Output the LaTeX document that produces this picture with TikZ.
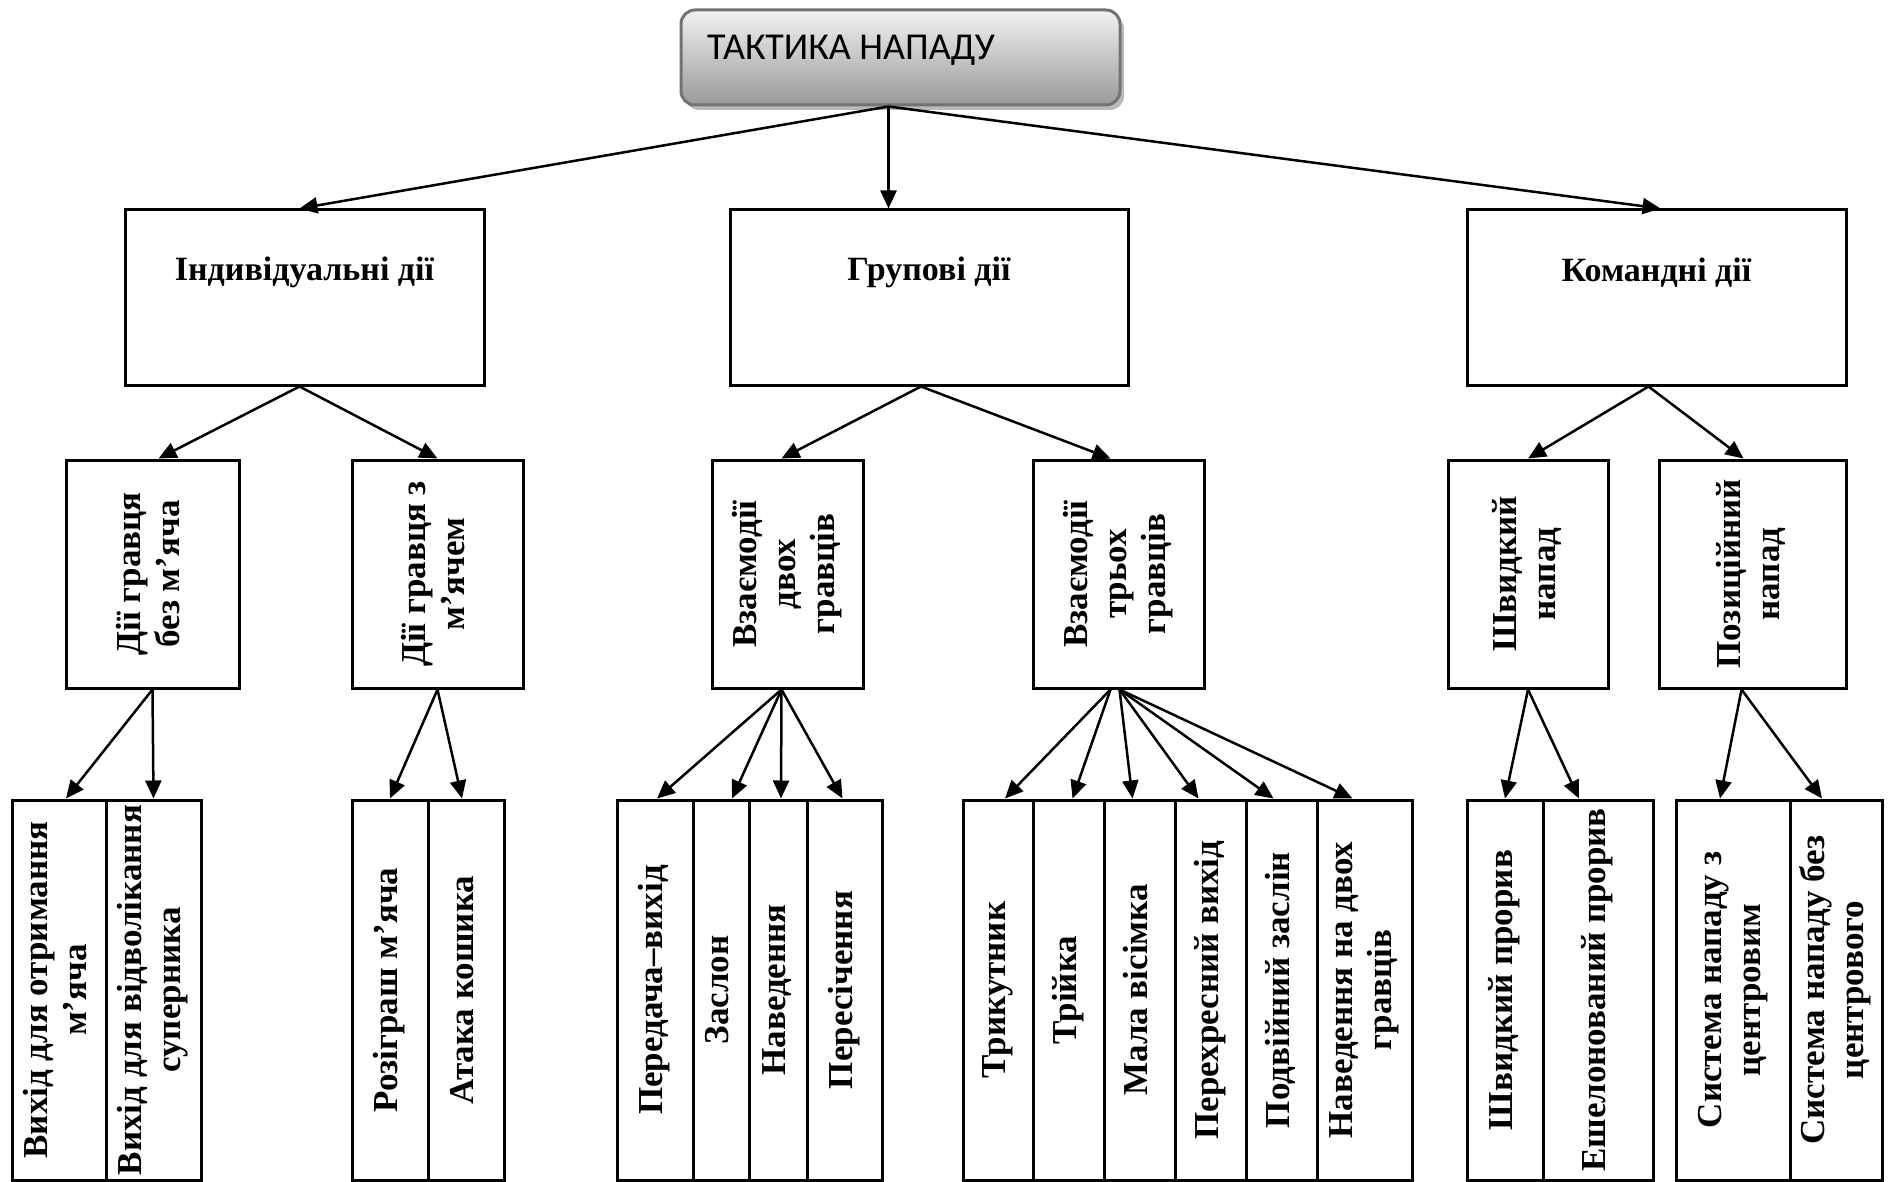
\documentclass[tikz,border=0pt]{standalone}
\usepackage{fontspec}
\setmainfont{Liberation Serif}
\newfontfamily\titlefont{Carlito}
\usepackage{tikz}
\usetikzlibrary{arrows.meta,shadows}

\newcommand{\vtext}[1]{\rotatebox{90}{\begin{tabular}{@{}c@{}}#1\end{tabular}}}

\begin{document}
\begin{tikzpicture}[x=1pt,y=-1pt,
  txt/.style={font=\fontsize{35}{39}\selectfont\bfseries},
  headtxt/.style={font=\fontsize{34}{39}\selectfont\bfseries},
  box/.style={draw,line width=3pt,inner sep=0pt,txt},
  arr/.style={-{Triangle[length=18pt,width=16pt]},line width=2.5pt}]
  \useasboundingbox (0,0) rectangle (1889,1182);
  \node[draw=black!55,line width=3pt,rounded corners=14pt,top color=black!5,bottom color=black!40,
    drop shadow={shadow xshift=4pt,shadow yshift=-5pt,fill=black!45,opacity=0.6},
    minimum width=439pt,minimum height=95pt,
    label={[anchor=west,xshift=24pt,yshift=7pt,font=\titlefont\fontsize{38}{44}\selectfont]west:ТАКТИКА НАПАДУ}] (T) at (900.5,57.5) {};
  \coordinate (Tout) at ([xshift=-12pt]T.south);

  \node[box,minimum width=359pt,minimum height=175pt,label={[headtxt,yshift=25pt]center:Індивідуальні дії}] (I) at (304.5,297.5) {};
  \node[box,minimum width=398pt,minimum height=175pt,label={[headtxt,yshift=25pt]center:Групові дії}] (G) at (929,297.5) {};
  \node[box,minimum width=379pt,minimum height=175pt,label={[headtxt,yshift=25pt]center:Командні дії}] (K) at (1656.5,297.5) {};

  \node[box,minimum width=173pt,minimum height=228pt] (I1) at (152.5,574) {\vtext{Дії гравця\\без м’яча}};
  \node[box,minimum width=171pt,minimum height=228pt] (I2) at (437.5,574) {\vtext{Дії гравця з\\м’ячем}};
  \node[box,minimum width=151pt,minimum height=228pt] (G1) at (787.5,574) {\vtext{Взаємодії\\двох\\гравців}};
  \node[box,minimum width=171pt,minimum height=228pt] (G2) at (1118.5,574) {\vtext{Взаємодії\\трьох\\гравців}};
  \node[box,minimum width=160pt,minimum height=228pt] (K1) at (1528,574) {\vtext{Швидкий\\напад}};
  \node[box,minimum width=187pt,minimum height=228pt] (K2) at (1752.5,574) {\vtext{Позиційний\\напад}};

  \node[box,minimum width=94pt,minimum height=380pt] (I11) at (59,990) {\vtext{Вихід для отримання\\м’яча}};
  \node[box,minimum width=95pt,minimum height=380pt] (I12) at (153.5,990) {\vtext{Вихід для відволікання\\суперника}};
  \node[box,minimum width=76pt,minimum height=380pt] (I21) at (390,990) {\vtext{Розіграш м’яча}};
  \node[box,minimum width=76pt,minimum height=380pt] (I22) at (466,990) {\vtext{Атака кошика}};
  \node[box,minimum width=76pt,minimum height=380pt] (G11) at (655,990) {\vtext{Передача–вихід}};
  \node[box,minimum width=56pt,minimum height=380pt] (G12) at (721,990) {\vtext{Заслон}};
  \node[box,minimum width=58pt,minimum height=380pt] (G13) at (778,990) {\vtext{Наведення}};
  \node[box,minimum width=75pt,minimum height=380pt] (G14) at (844.5,990) {\vtext{Пересічення}};
  \node[box,minimum width=70pt,minimum height=380pt] (G21) at (998,990) {\vtext{Трикутник}};
  \node[box,minimum width=71pt,minimum height=380pt] (G22) at (1068.5,990) {\vtext{Трійка}};
  \node[box,minimum width=71pt,minimum height=380pt] (G23) at (1139.5,990) {\vtext{Мала вісімка}};
  \node[box,minimum width=71pt,minimum height=380pt] (G24) at (1210.5,990) {\vtext{Перехресний вихід}};
  \node[box,minimum width=71pt,minimum height=380pt] (G25) at (1281.5,990) {\vtext{Подвійний заслін}};
  \node[box,minimum width=95pt,minimum height=380pt] (G26) at (1364.5,990) {\vtext{Наведення на двох\\гравців}};
  \node[box,minimum width=76pt,minimum height=380pt] (K11) at (1505,990) {\vtext{Швидкий прорив}};
  \node[box,minimum width=110pt,minimum height=380pt] (K12) at (1598,990) {\vtext{Ешелонований прорив}};
  \node[box,minimum width=114pt,minimum height=380pt] (K21) at (1733,990) {\vtext{Система нападу з\\центровим}};
  \node[box,minimum width=92pt,minimum height=380pt] (K22) at (1836,990) {\vtext{Система нападу без\\центрового}};

  \draw[arr] (Tout) -- ([xshift=-5pt]I.north);
  \draw[arr] (Tout) -- (Tout |- G.north);
  \draw[arr] (Tout) -- ([xshift=4pt]K.north);

  \draw[arr] ([xshift=-5pt]I.south) -- ([xshift=6pt]I1.north);
  \draw[arr] ([xshift=-5pt]I.south) -- (I2.north);
  \draw[arr] ([xshift=-8pt]G.south) -- ([xshift=-6pt]G1.north);
  \draw[arr] ([xshift=-8pt]G.south) -- ([xshift=-8pt]G2.north);
  \draw[arr] ([xshift=-8pt]K.south) -- (K1.north);
  \draw[arr] ([xshift=-8pt]K.south) -- ([xshift=-9pt]K2.north);

  \draw[arr] (I1.south) -- ([xshift=7pt]I11.north);
  \draw[arr] (I1.south) -- (I12.north);
  \draw[arr] (I2.south) -- (I21.north);
  \draw[arr] (I2.south) -- ([xshift=-4pt]I22.north);
  \draw[arr] ([xshift=-6pt]G1.south) -- ([xshift=2pt]G11.north);
  \draw[arr] ([xshift=-6pt]G1.south) -- ([xshift=11pt]G12.north);
  \draw[arr] ([xshift=-6pt]G1.south) -- ([xshift=3pt]G13.north);
  \draw[arr] ([xshift=-6pt]G1.south) -- ([xshift=-2pt]G14.north);
  \draw[arr] ([xshift=-8pt]G2.south) -- ([xshift=7pt]G21.north);
  \draw[arr] ([xshift=-8pt]G2.south) -- ([xshift=4pt]G22.north);
  \draw[arr] ([xshift=1pt]G2.south) -- ([xshift=-7pt]G23.north);
  \draw[arr] ([xshift=1pt]G2.south) -- ([xshift=-12pt]G24.north);
  \draw[arr] ([xshift=1pt]G2.south) -- ([xshift=-8pt]G25.north);
  \draw[arr] ([xshift=1pt]G2.south) -- ([xshift=-12pt]G26.north);
  \draw[arr] (K1.south) -- (K11.north);
  \draw[arr] (K1.south) -- ([xshift=-19pt]K12.north);
  \draw[arr] ([xshift=-11pt]K2.south) -- ([xshift=-13pt]K21.north);
  \draw[arr] ([xshift=-11pt]K2.south) -- ([xshift=-14pt]K22.north);
\end{tikzpicture}
\end{document}
